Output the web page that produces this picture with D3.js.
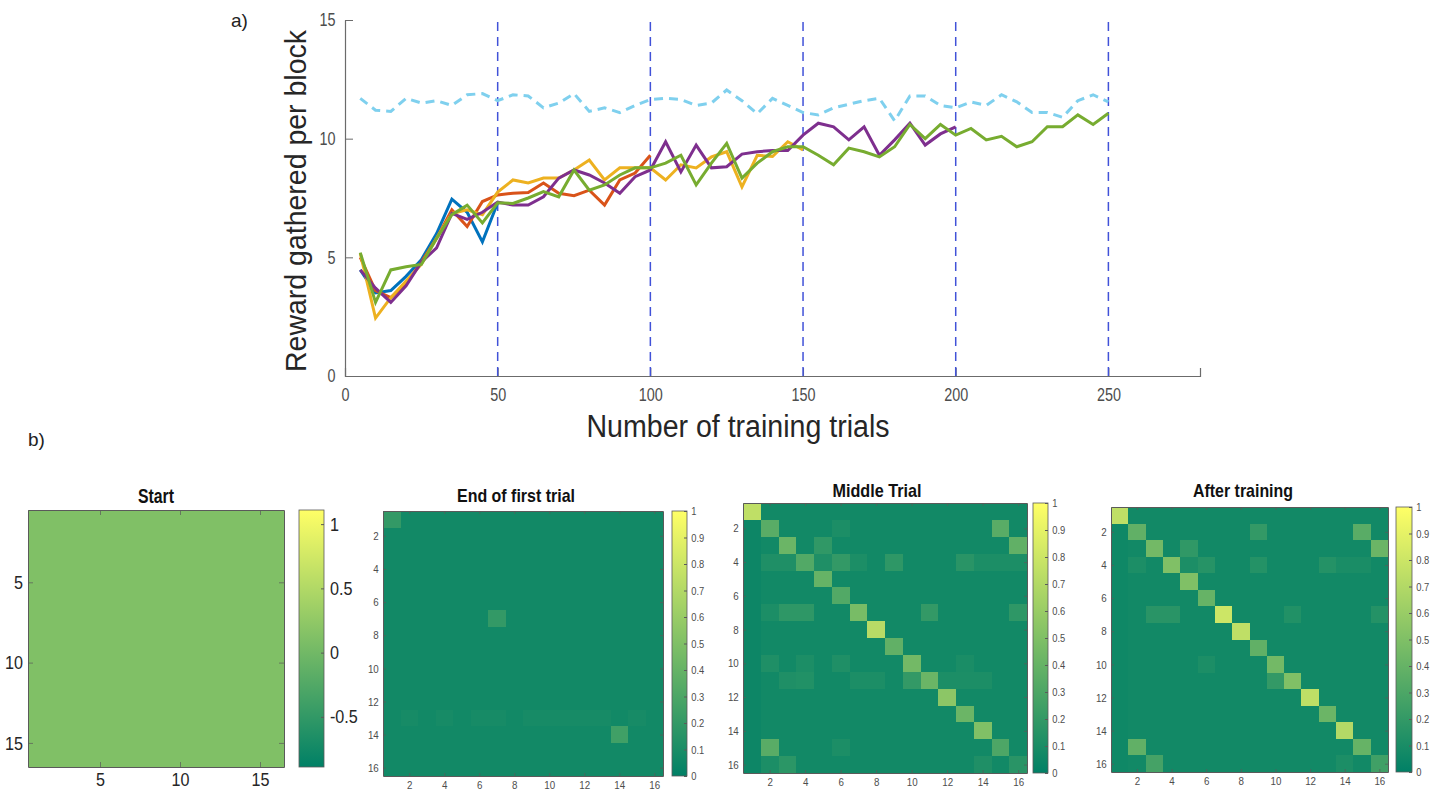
<!DOCTYPE html>
<html>
<head>
<meta charset="utf-8">
<script src="https://cdn.jsdelivr.net/npm/d3@7"></script>
<style>
  body { margin: 0; background: #fff; }
  svg text { font-family: "Liberation Sans", Arial, sans-serif; }
</style>
</head>
<body>
<div id="chart"></div>
<script>
// ---- panel a) data: reward per block, one point every 5 trials ----
const trials = d3.range(5, 251, 5);
const optimal = [11.7, 11.2, 11.15, 11.7, 11.5, 11.6, 11.4, 11.85, 11.9, 11.6,
  11.85, 11.8, 11.3, 11.5, 11.9, 11.15, 11.3, 11.1, 11.4, 11.65,
  11.7, 11.65, 11.4, 11.5, 12.05, 11.6, 11.05, 11.7, 11.4, 11.1,
  11.0, 11.3, 11.45, 11.6, 11.7, 10.75, 11.8, 11.8, 11.4, 11.3,
  11.55, 11.4, 11.85, 11.55, 11.1, 11.1, 10.9, 11.6, 11.85, 11.55];
const run50 = [4.47, 3.5, 3.6, 4.2, 4.9, 6.0, 7.45, 6.9, 5.65, 7.3];
const run100 = [5.0, 3.6, 3.3, 3.9, 4.8, 5.8, 7.0, 6.3, 7.35, 7.63,
  7.7, 7.73, 8.13, 7.7, 7.6, 7.83, 7.2, 8.26, 8.55, 9.3];
const run150 = [5.17, 2.44, 3.3, 4.0, 4.7, 5.8, 6.85, 7.0, 6.8, 7.75,
  8.26, 8.13, 8.34, 8.34, 8.68, 9.1, 8.26, 8.77, 8.77, 8.77,
  8.26, 8.9, 8.77, 9.23, 9.45, 7.97, 9.3, 9.25, 9.87, 9.53];
const run200 = [4.47, 3.7, 3.1, 3.8, 4.8, 5.4, 6.85, 6.6, 6.9, 7.33,
  7.2, 7.2, 7.55, 8.34, 8.68, 8.47, 8.13, 7.7, 8.4, 8.68,
  9.87, 8.6, 9.73, 8.77, 8.82, 9.35, 9.45, 9.5, 9.5, 10.15,
  10.65, 10.5, 9.95, 10.5, 9.3, 9.95, 10.65, 9.73, 10.2, 10.5];
const run250 = [5.2, 3.1, 4.47, 4.6, 4.7, 5.8, 6.8, 7.2, 6.45, 7.3,
  7.27, 7.5, 7.77, 7.55, 8.68, 7.83, 8.05, 8.47, 8.77, 8.77,
  8.97, 9.3, 8.05, 8.97, 9.8, 8.34, 8.97, 9.45, 9.66, 9.66,
  9.3, 8.9, 9.6, 9.45, 9.23, 9.66, 10.6, 10.0, 10.6, 10.15,
  10.43, 9.95, 10.1, 9.66, 9.87, 10.5, 10.5, 11.0, 10.6, 11.07];
const runColors = ["#0072BD", "#D95319", "#EDB120", "#7E2F8E", "#77AC30"];
const blockEnds = [50, 100, 150, 200, 250];
const xTicks = [0, 50, 100, 150, 200, 250];
const yTicks = [0, 5, 10, 15];

// ---- panel b) data: 16x16 matrices (base value, diagonal, notable off-diagonal cells) ----
const startValue = 0.11;
const firstBase = 0.07;
const firstCells = [[1, 1, 0.2], [7, 7, 0.2], [14, 14, 0.25],
  [13, 2, 0.09], [13, 4, 0.09], [13, 6, 0.09], [13, 7, 0.09], [13, 9, 0.09], [13, 10, 0.09],
  [13, 11, 0.09], [13, 12, 0.09], [13, 13, 0.09], [13, 15, 0.09]];
const middleBase = 0.07;
const middleDiag = [0.75, 0.35, 0.42, 0.32, 0.4, 0.32, 0.47, 0.72, 0.38, 0.45, 0.42, 0.55, 0.42, 0.5, 0.3, 0.16];
const middleCells = [[2, 6, 0.11], [2, 15, 0.35], [3, 5, 0.19], [3, 16, 0.38],
  [4, 2, 0.12], [4, 3, 0.12], [4, 5, 0.12], [4, 6, 0.2], [4, 7, 0.11], [4, 9, 0.18], [4, 13, 0.16],
  [4, 14, 0.11], [4, 15, 0.11], [4, 16, 0.11],
  [7, 2, 0.11], [7, 3, 0.18], [7, 4, 0.18], [7, 11, 0.2], [7, 16, 0.18],
  [10, 2, 0.12], [10, 4, 0.11], [10, 6, 0.12], [10, 13, 0.1],
  [11, 3, 0.12], [11, 4, 0.13], [11, 7, 0.11], [11, 8, 0.11], [11, 10, 0.2],
  [11, 12, 0.11], [11, 13, 0.11], [11, 14, 0.11],
  [15, 2, 0.35], [15, 6, 0.11], [16, 2, 0.11], [16, 3, 0.17], [16, 14, 0.12]];
const afterBase = 0.07;
const afterDiag = [0.75, 0.38, 0.45, 0.5, 0.5, 0.4, 0.8, 0.75, 0.38, 0.45, 0.5, 0.75, 0.42, 0.7, 0.4, 0.25];
const afterCells = [[2, 9, 0.2], [2, 15, 0.35], [3, 5, 0.19], [3, 16, 0.42],
  [4, 2, 0.11], [4, 5, 0.11], [4, 6, 0.15], [4, 9, 0.14], [4, 13, 0.14], [4, 14, 0.1], [4, 15, 0.1],
  [7, 3, 0.16], [7, 4, 0.16], [7, 11, 0.13], [7, 16, 0.14],
  [10, 6, 0.11], [11, 10, 0.2],
  [15, 2, 0.38], [16, 3, 0.27], [16, 14, 0.11]];
const unitTicks = [0, 0.1, 0.2, 0.3, 0.4, 0.5, 0.6, 0.7, 0.8, 0.9, 1];
const evenTicks = [2, 4, 6, 8, 10, 12, 14, 16];

// MATLAB "summer" colormap
const summer = d3.interpolateRgb("#008066", "#ffff66");
const plain = d => String(d).replace("\u2212", "-");

function buildMatrix(base, diag, cells, firstCol) {
  const m = d3.range(16).map(() => d3.range(16).map(() => base));
  if (firstCol !== undefined) for (let r = 1; r < 16; r++) m[r][0] = firstCol;
  if (diag) diag.forEach((v, i) => { m[i][i] = v; });
  cells.forEach(([r, c, v]) => { m[r - 1][c - 1] = v; });
  return m;
}

// the source figure is horizontally squeezed: narrow the glyphs the same way
function narrow(sel, s = 0.8) {
  sel.attr("transform", `scale(${s},1)`);
}

const svg = d3.select("#chart").append("svg")
  .attr("width", 1438)
  .attr("height", 794);

// ---------------- panel a) ----------------
const x = d3.scaleLinear().domain([0, 280]).range([345, 1200]);
const y = d3.scaleLinear().domain([0, 15]).range([376, 20]);

const xAxis = svg.append("g")
  .attr("transform", `translate(0,${y(0)})`)
  .call(d3.axisBottom(x).tickValues(xTicks).tickSizeInner(-8).tickSizeOuter(-8).tickPadding(12).tickFormat(plain));
const yAxis = svg.append("g")
  .attr("transform", `translate(${x(0)},0)`)
  .call(d3.axisLeft(y).tickValues(yTicks).tickSizeInner(-8).tickSizeOuter(0).tickPadding(12).tickFormat(plain));
[xAxis, yAxis].forEach(g => {
  g.select(".domain").attr("stroke", "#6b6b6b").attr("stroke-width", 1.2);
  g.selectAll(".tick line").attr("stroke", "#6b6b6b");
  g.selectAll(".tick text").attr("fill", "#4d4d4d").attr("font-size", 18).style("font-family", null)
    .call(narrow);
});

svg.selectAll("line.block")
  .data(blockEnds)
  .join("line")
  .attr("class", "block")
  .attr("x1", d => x(d)).attr("x2", d => x(d))
  .attr("y1", y(0)).attr("y2", y(15))
  .attr("stroke", "#4152d8")
  .attr("stroke-width", 1.5)
  .attr("stroke-dasharray", "9,6");

const line = d3.line()
  .x((d, i) => x(trials[i]))
  .y(d => y(d));

svg.append("path")
  .attr("d", line(optimal))
  .attr("fill", "none")
  .attr("stroke", "#7fd0ee")
  .attr("stroke-width", 3)
  .attr("stroke-dasharray", "9,6");

[run50, run100, run150, run200, run250].forEach((s, k) => {
  svg.append("path")
    .attr("d", line(s))
    .attr("fill", "none")
    .attr("stroke", runColors[k])
    .attr("stroke-width", 3);
});

svg.append("text")
  .attr("x", 738).attr("y", 437)
  .attr("text-anchor", "middle")
  .attr("font-size", 31)
  .attr("fill", "#262626")
  .attr("textLength", 303)
  .attr("lengthAdjust", "spacingAndGlyphs")
  .text("Number of training trials");

svg.append("text")
  .attr("transform", "translate(306,201) rotate(-90)")
  .attr("text-anchor", "middle")
  .attr("font-size", 30)
  .attr("fill", "#262626")
  .attr("textLength", 342)
  .attr("lengthAdjust", "spacingAndGlyphs")
  .text("Reward gathered per block");

svg.append("text").attr("x", 231).attr("y", 27).attr("font-size", 19).attr("fill", "#222").text("a)");
svg.append("text").attr("x", 28).attr("y", 446).attr("font-size", 19).attr("fill", "#222").text("b)");

// ---------------- panel b) ----------------
function heatmap(cfg) {
  const g = svg.append("g");
  const hx = d3.scaleLinear().domain([0.5, 16.5]).range([cfg.x0, cfg.x1]);
  const hy = d3.scaleLinear().domain([0.5, 16.5]).range([cfg.y0, cfg.y1]);
  const color = d3.scaleLinear().domain(cfg.domain).range([0, 1]);

  const cells = [];
  cfg.matrix.forEach((row, r) => row.forEach((v, c) => cells.push({ r: r + 1, c: c + 1, v })));
  g.selectAll("rect.cell")
    .data(cells)
    .join("rect")
    .attr("class", "cell")
    .attr("x", d => hx(d.c - 0.5))
    .attr("y", d => hy(d.r - 0.5))
    .attr("width", d => d.c === 16 ? hx(1.5) - hx(0.5) : hx(1.5) - hx(0.5) + 1)
    .attr("height", d => d.r === 16 ? hy(1.5) - hy(0.5) : hy(1.5) - hy(0.5) + 1)
    .attr("shape-rendering", "crispEdges")
    .attr("fill", d => summer(color(d.v)));

  // axes box with inward ticks on all sides
  const axes = [
    g.append("g").attr("transform", `translate(0,${cfg.y1})`)
      .call(d3.axisBottom(hx).tickValues(cfg.ticks).tickSizeInner(-cfg.tick).tickSizeOuter(0).tickPadding(cfg.pad)),
    g.append("g").attr("transform", `translate(${cfg.x0},0)`)
      .call(d3.axisLeft(hy).tickValues(cfg.ticks).tickSizeInner(-cfg.tick).tickSizeOuter(0).tickPadding(cfg.pad)),
    g.append("g").attr("transform", `translate(0,${cfg.y0})`)
      .call(d3.axisTop(hx).tickValues(cfg.ticks).tickSizeInner(-cfg.tick).tickSizeOuter(0).tickFormat("")),
    g.append("g").attr("transform", `translate(${cfg.x1},0)`)
      .call(d3.axisRight(hy).tickValues(cfg.ticks).tickSizeInner(-cfg.tick).tickSizeOuter(0).tickFormat(""))
  ];
  axes.forEach(a => {
    a.select(".domain").attr("stroke", "#5a5a5a");
    a.selectAll(".tick line").attr("stroke", "#5a5a5a").attr("stroke-opacity", 0.7);
    a.selectAll(".tick text").attr("fill", cfg.labelColor).attr("font-size", cfg.fontSize)
      .style("font-family", null).call(narrow, 0.85);
  });

  // colorbar
  const gradId = "grad" + cfg.id;
  const grad = svg.append("defs").append("linearGradient")
    .attr("id", gradId).attr("x1", 0).attr("x2", 0).attr("y1", 1).attr("y2", 0);
  grad.append("stop").attr("offset", 0).attr("stop-color", summer(0));
  grad.append("stop").attr("offset", 1).attr("stop-color", summer(1));
  g.append("rect")
    .attr("x", cfg.cb0).attr("y", cfg.y0)
    .attr("width", cfg.cb1 - cfg.cb0).attr("height", cfg.y1 - cfg.y0)
    .attr("fill", `url(#${gradId})`)
    .attr("stroke", "#5a5a5a").attr("stroke-width", 0.8);
  const cy = d3.scaleLinear().domain(cfg.domain).range([cfg.y1, cfg.y0]);
  const cb = g.append("g").attr("transform", `translate(${cfg.cb1},0)`)
    .call(d3.axisRight(cy).tickValues(cfg.cbTicks).tickSizeInner(-3).tickSizeOuter(0)
      .tickPadding(cfg.cbPad).tickFormat(plain));
  cb.select(".domain").remove();
  cb.selectAll(".tick line").attr("stroke", "#5a5a5a");
  cb.selectAll(".tick text").attr("fill", cfg.labelColor).attr("font-size", cfg.cbFont)
    .style("font-family", null).call(narrow, 0.85);

  g.append("text")
    .attr("x", cfg.titleX).attr("y", cfg.titleY)
    .attr("text-anchor", "middle")
    .attr("font-size", cfg.titleSize)
    .attr("font-weight", "bold")
    .attr("fill", "#111")
    .attr("textLength", cfg.titleW)
    .attr("lengthAdjust", "spacingAndGlyphs")
    .text(cfg.title);
}

heatmap({
  id: "start", title: "Start", titleX: 156, titleY: 503, titleSize: 20, titleW: 36,
  matrix: buildMatrix(startValue, null, []),
  x0: 28, x1: 284, y0: 510, y1: 767, cb0: 299, cb1: 324,
  domain: [startValue - 1, startValue + 1], cbTicks: [-0.5, 0, 0.5, 1],
  ticks: [5, 10, 15], tick: 5, pad: 6, fontSize: 19, cbFont: 19, cbPad: 7, labelColor: "#262626"
});

heatmap({
  id: "first", title: "End of first trial", titleX: 516, titleY: 502, titleSize: 19, titleW: 118,
  matrix: buildMatrix(firstBase, null, firstCells),
  x0: 383, x1: 663, y0: 511, y1: 776, cb0: 672, cb1: 687,
  domain: [0, 1], cbTicks: unitTicks,
  ticks: evenTicks, tick: 3, pad: 5, fontSize: 11.5, cbFont: 11, cbPad: 5, labelColor: "#4d4d4d"
});

heatmap({
  id: "middle", title: "Middle Trial", titleX: 877, titleY: 497, titleSize: 19, titleW: 89,
  matrix: buildMatrix(middleBase, middleDiag, middleCells, 0.05),
  x0: 743, x1: 1027, y0: 503, y1: 773, cb0: 1033, cb1: 1048,
  domain: [0, 1], cbTicks: unitTicks,
  ticks: evenTicks, tick: 3, pad: 5, fontSize: 11.5, cbFont: 11, cbPad: 5, labelColor: "#4d4d4d"
});

heatmap({
  id: "after", title: "After training", titleX: 1243, titleY: 497, titleSize: 19, titleW: 100,
  matrix: buildMatrix(afterBase, afterDiag, afterCells, 0.06),
  x0: 1111, x1: 1388, y0: 507, y1: 772, cb0: 1396, cb1: 1412,
  domain: [0, 1], cbTicks: unitTicks,
  ticks: evenTicks, tick: 3, pad: 5, fontSize: 11.5, cbFont: 11, cbPad: 5, labelColor: "#4d4d4d"
});
</script>
</body>
</html>
